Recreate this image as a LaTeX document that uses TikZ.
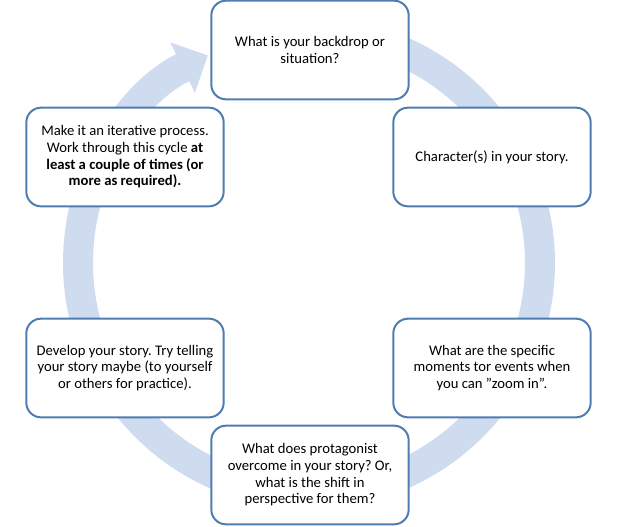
\documentclass[tikz,border=0pt]{standalone}
\usepackage{fontspec}
\setmainfont{Carlito}
\usepackage{tikz}
\usetikzlibrary{arrows.meta,calc}
\definecolor{cyedge}{HTML}{4F7DB0}
\definecolor{cyring}{HTML}{CFDBEE}
\frenchspacing
\newcommand{\sq}{\symbol{34}}

\begin{document}
\begin{tikzpicture}[
  x=0.75pt, y=-0.75pt,
  stepbox/.style={draw=cyedge, line width=1.5pt, fill=white, rounded corners=11pt,
    minimum width=148pt, minimum height=74pt, align=center,
    font=\fontsize{11}{12.5}\selectfont},
  ring/.style={draw=cyring, line width=22.5pt,
    -{Triangle[length=21pt, width=41pt]}},
]
\useasboundingbox (0,0) rectangle (619,526);
% ---------- background cycle arrow (y points down, so angles run clockwise) ----------
\coordinate (hub) at (309,263);
\draw[ring] ($(hub)+(-90:231)$) arc[start angle=-90, end angle=244, radius=231];
% ---------- the six steps ----------
\foreach \name/\xc/\yc/\txt in {%
  {backdrop}/310/50/{What is your backdrop or\\situation?},
  {chars}/492/157/{Character(s) in your story.},
  {moments}/492/368/{What are the specific\\moments tor events when\\you can \sq zoom in\sq.},
  {shift}/310/475/{What does protagonist\\overcome in your story? Or,\\what is the shift in\\perspective for them?},
  {develop}/125/368/{Develop your story. Try telling\\your story maybe (to yourself\\or others for practice).},
  {iterate}/125/157/{Make it an iterative process.\\Work through this cycle \textbf{at}\\\textbf{least a couple of times (or}\\\textbf{more as required).}}%
} {
  \node[stepbox] (\name) at (\xc,\yc) {\txt};
}
\end{tikzpicture}
\end{document}
